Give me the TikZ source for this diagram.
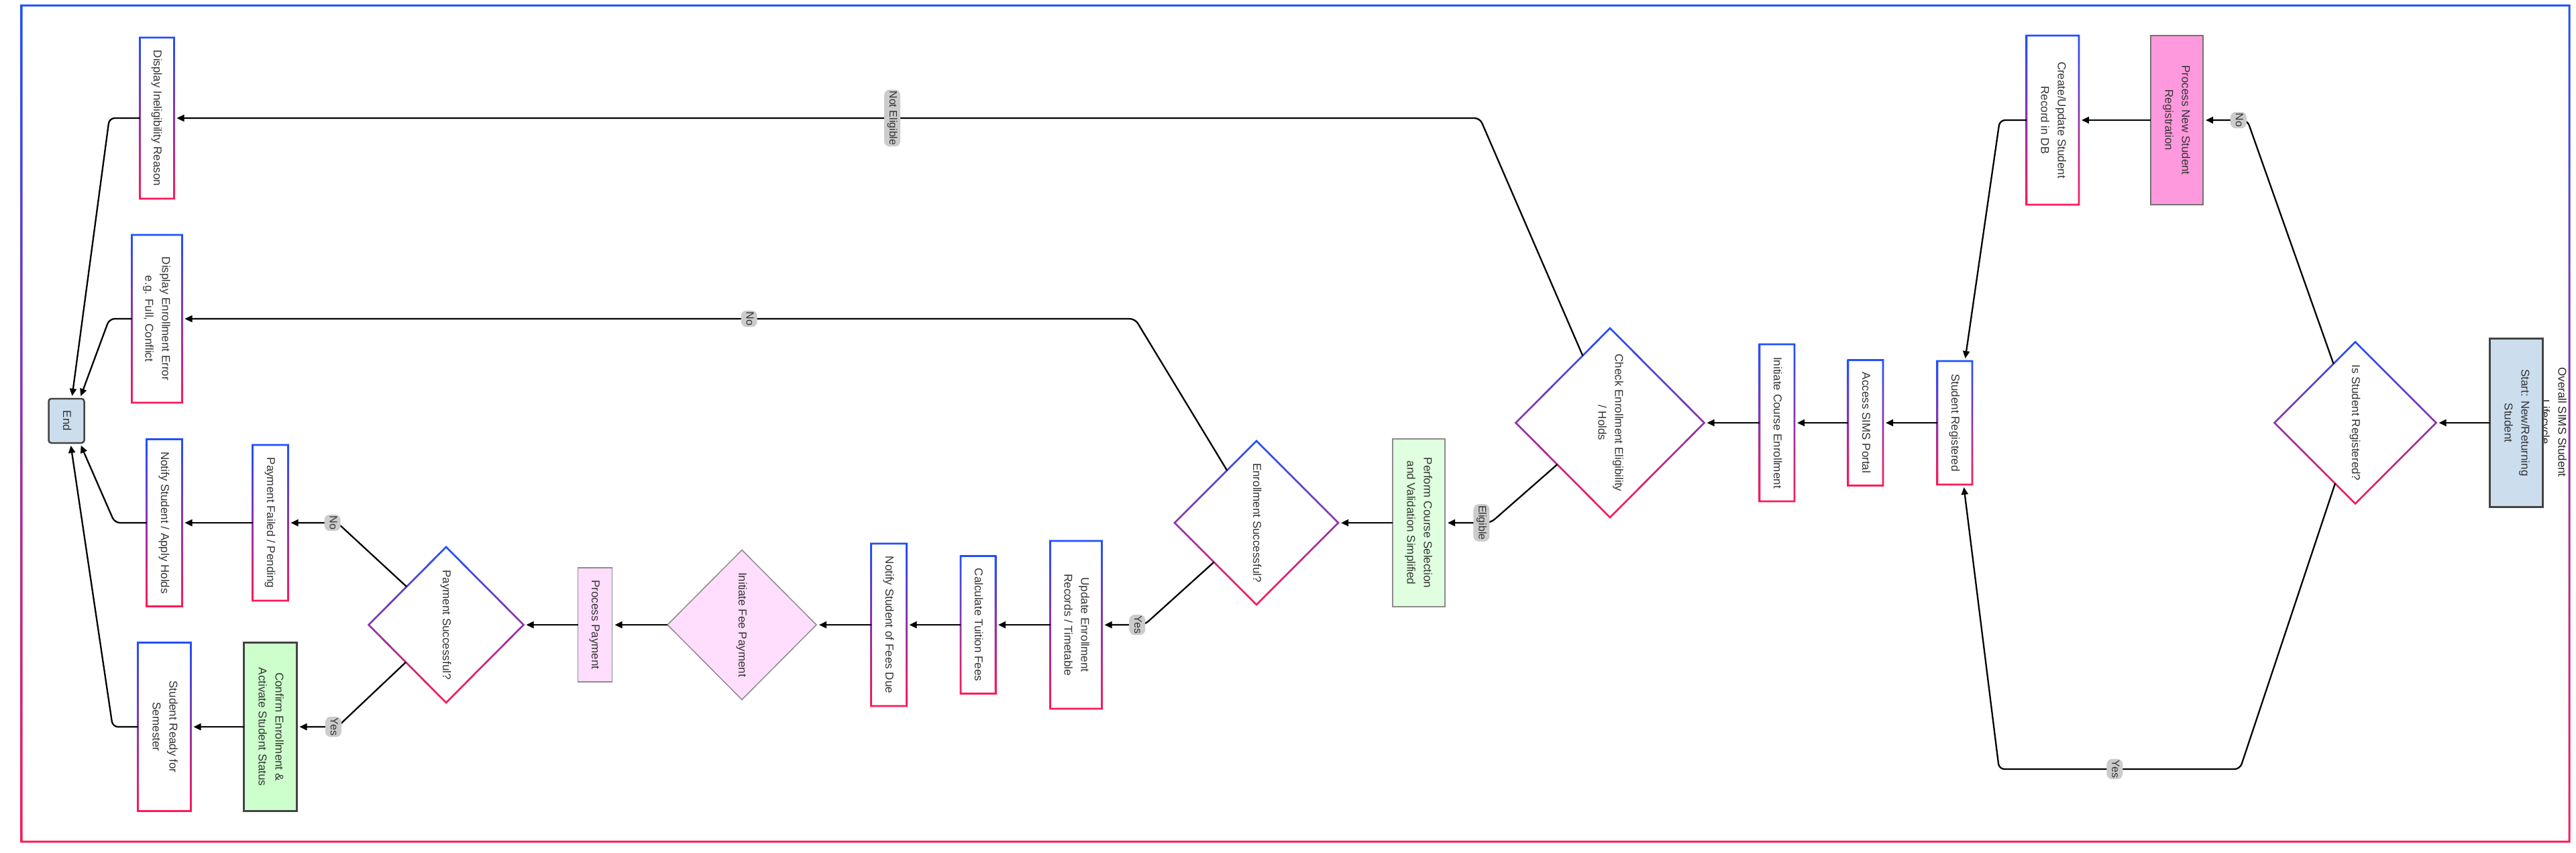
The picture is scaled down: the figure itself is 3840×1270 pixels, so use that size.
\documentclass[tikz,border=0pt]{standalone}
\usepackage{fontspec}
\setmainfont{Liberation Sans}
\usepackage{graphicx}
\usetikzlibrary{arrows.meta,shapes.geometric,calc}

\definecolor{gblue}{RGB}{30,80,255}
\definecolor{gred}{RGB}{255,25,85}
\definecolor{termfill}{RGB}{204,222,238}
\definecolor{termline}{RGB}{68,68,68}
\definecolor{regpink}{RGB}{255,153,221}
\definecolor{paypink}{RGB}{255,221,253}
\definecolor{okgreen}{RGB}{204,255,204}
\definecolor{selgreen}{RGB}{224,255,224}
\definecolor{labelgray}{RGB}{204,204,204}
\definecolor{txtgray}{RGB}{51,51,51}

\newcommand{\boxtxt}{\fontsize{17}{25}\selectfont}
\newcommand{\tagtxt}{\fontsize{16}{20}\selectfont}
\newcommand{\rottext}[1]{\rotatebox{-90}{\begin{tabular}{@{}c@{}}#1\end{tabular}}}
% gradient border round a box or a diamond
\newcommand{\gradrect}[1]{%
  \shade[gradring]
    ([shift={(-1.3pt,1.3pt)}]#1.north west) rectangle ([shift={(1.3pt,-1.3pt)}]#1.south east)
    ([shift={(1.3pt,-1.3pt)}]#1.north west) rectangle ([shift={(-1.3pt,1.3pt)}]#1.south east);}
\newcommand{\graddiam}[1]{%
  \shade[gradring]
    ([yshift=1.9pt]#1.north) -- ([xshift=1.9pt]#1.east) -- ([yshift=-1.9pt]#1.south) -- ([xshift=-1.9pt]#1.west) -- cycle
    ([yshift=-1.9pt]#1.north) -- ([xshift=-1.9pt]#1.east) -- ([yshift=1.9pt]#1.south) -- ([xshift=1.9pt]#1.west) -- cycle;}

\begin{document}
\begin{tikzpicture}[x=1pt,y=-1pt,>={Triangle[length=11pt,width=10pt]},
  procbox/.style={rectangle,fill=white,inner sep=0pt,outer sep=0pt,text=txtgray,font=\boxtxt},
  termbox/.style={procbox,fill=termfill,draw=termline,line width=2.5pt},
  decision/.style={diamond,fill=white,inner sep=0pt,outer sep=0pt,text=txtgray,font=\boxtxt},
  flow/.style={->,line width=2.3pt,rounded corners=8pt,shorten >=4pt},
  elabel/.style={fill=labelgray,text=txtgray,inner sep=2pt,font=\tagtxt},
  gradring/.style={top color=gblue,bottom color=gred,even odd rule}]
\useasboundingbox (0,0) rectangle (3840,1270);
\fill[white] (0,0) rectangle (3840,1270);

% The frame
\coordinate (fNW) at (32,8);
\coordinate (fSE) at (3830,1254);
\shade[gradring] ([shift={(-1.5pt,1.5pt)}]fNW) rectangle ([shift={(1.5pt,-1.5pt)}]fSE)
  ([shift={(1.5pt,-1.5pt)}]fNW) rectangle ([shift={(-1.5pt,1.5pt)}]fSE);
\node[font=\boxtxt,text=black!85,inner sep=0pt] (title) at (3806,629) {\rottext{Overall SIMS Student\\Lifecycle}};

% Registration
\node[termbox,minimum width=79,minimum height=251] (start) at (3751,630) {\rottext{Start: New/Returning\\Student}};
\node[decision,minimum width=241,minimum height=241] (isReg) at (3511,630) {\rottext{Is Student Registered?}};
\node[procbox,fill=regpink,draw=black!55,line width=2pt,minimum width=78,minimum height=252] (newReg) at (3245,179) {\rottext{Process New Student\\Registration}};
\node[procbox,minimum width=78,minimum height=252] (createRec) at (3060,179) {\rottext{Create/Update Student\\Record in DB}};
\node[procbox,minimum width=52,minimum height=184] (stuReg) at (2914,630) {\rottext{Student Registered}};
\node[procbox,minimum width=52,minimum height=187] (portal) at (2781,630) {\rottext{Access SIMS Portal}};
\node[procbox,minimum width=52,minimum height=234] (initEnr) at (2649,630) {\rottext{Initiate Course Enrollment}};

% Enrollment
\node[decision,minimum width=281,minimum height=282] (checkElig) at (2400,630) {\rottext{Check Enrollment Eligibility\\/ Holds}};
\node[procbox,fill=selgreen,draw=black!45,line width=2pt,minimum width=78,minimum height=250] (perform) at (2115,779) {\rottext{Perform Course Selection\\and Validation Simplified}};
\node[decision,minimum width=244,minimum height=244] (enrOK) at (1873,779) {\rottext{Enrollment Successful?}};
\node[procbox,minimum width=77,minimum height=250] (updEnr) at (1604,931) {\rottext{Update Enrollment\\Records / Timetable}};
\node[procbox,minimum width=52,minimum height=205] (calcFees) at (1458,931) {\rottext{Calculate Tuition Fees}};
\node[procbox,minimum width=53,minimum height=242] (notifyFees) at (1325,931) {\rottext{Notify Student of Fees Due}};

% Payment
\node[decision,fill=paypink,draw=black!45,line width=1.5pt,minimum width=222,minimum height=223] (initFee) at (1106,931) {\rottext{Initiate Fee Payment}};
\node[procbox,fill=paypink,draw=black!45,line width=1.5pt,minimum width=51,minimum height=170] (procPay) at (887,931) {\rottext{Process Payment}};
\node[decision,minimum width=231,minimum height=232] (payOK) at (665,931) {\rottext{Payment Successful?}};
\node[procbox,minimum width=53,minimum height=232] (payFail) at (403,779) {\rottext{Payment Failed / Pending}};
\node[procbox,minimum width=53,minimum height=249] (notifyHold) at (245,779) {\rottext{Notify Student / Apply Holds}};
\node[procbox,fill=okgreen,draw=termline,line width=2.5pt,minimum width=79,minimum height=251] (confirm) at (403,1083) {\rottext{Confirm Enrollment \&\\Activate Student Status}};
\node[procbox,minimum width=79,minimum height=251] (ready) at (245,1083) {\rottext{Student Ready for\\Semester}};

% Errors and end
\node[procbox,minimum width=51,minimum height=240] (dispInel) at (234,176) {\rottext{Display Ineligibility Reason}};
\node[procbox,minimum width=75,minimum height=250] (dispErr) at (234,475) {\rottext{Display Enrollment Error\\e.g. Full, Conflict}};
\node[termbox,rounded corners=4pt,minimum width=53,minimum height=66] (theEnd) at (99,627) {\rottext{End}};

% The gradient borders
\foreach \n in {createRec,stuReg,portal,initEnr,updEnr,calcFees,notifyFees,payFail,notifyHold,ready,dispInel,dispErr}
  {\gradrect{\n}}
\foreach \n in {isReg,checkElig,enrOK,payOK}
  {\graddiam{\n}}

% The bends
\coordinate (regNo) at (3350,179);
\coordinate (recDown) at (2981,179);
\coordinate (regYesA) at (3339,1146);
\coordinate (regYesB) at (2980,1146);
\coordinate (inelBend) at (2206,176);
\coordinate (eligBend) at (2222,779);
\coordinate (errBend) at (1692,475);
\coordinate (updBend) at (1706,931);
\coordinate (failBend) at (503,779);
\coordinate (okBend) at (503,1083);
\coordinate (endA) at (163,176);
\coordinate (endB) at (163,475);
\coordinate (endC) at (171,779);
\coordinate (endD) at (168,1083);

% Straight steps
\foreach \a/\b in {start/isReg,newReg/createRec,stuReg/portal,portal/initEnr,initEnr/checkElig,
  perform/enrOK,updEnr/calcFees,calcFees/notifyFees,notifyFees/initFee,initFee/procPay,
  procPay/payOK,payFail/notifyHold,confirm/ready}
  \draw[flow] (\a.west) -- (\b.east);

% Branches
\draw[flow] ($(isReg.north)!0.27!(isReg.west)$) -- (regNo) -- node[elabel,pos=0.2] {\rottext{No}} (newReg.east);
\draw[flow] (createRec.west) -- (recDown) -- ([xshift=15]stuReg.north);
\draw[flow] ($(isReg.south)!0.25!(isReg.west)$) -- (regYesA) -- node[elabel,pos=0.52] {\rottext{Yes}} (regYesB) -- ([xshift=13]stuReg.south);
\draw[flow] ($(checkElig.north)!0.29!(checkElig.west)$) -- (inelBend) -- node[elabel,pos=0.45] {\rottext{Not Eligible}} (dispInel.east);
\draw[flow] ($(checkElig.south)!0.56!(checkElig.west)$) -- (eligBend) -- node[elabel,pos=0.2] {\rottext{Eligible}} (perform.east);
\draw[flow] ($(enrOK.north)!0.36!(enrOK.west)$) -- (errBend) -- node[elabel,pos=0.405] {\rottext{No}} (dispErr.east);
\draw[flow] ($(enrOK.south)!0.52!(enrOK.west)$) -- (updBend) -- node[elabel,pos=0.17] {\rottext{Yes}} (updEnr.east);
\draw[flow] ($(payOK.north)!0.51!(payOK.west)$) -- (failBend) -- node[elabel,pos=0.1] {\rottext{No}} (payFail.east);
\draw[flow] ($(payOK.south)!0.52!(payOK.west)$) -- (okBend) -- node[elabel,pos=0.1] {\rottext{Yes}} (confirm.east);

% Into the end
\draw[flow] (dispInel.west) -- (endA) -- ([xshift=8]theEnd.north);
\draw[flow] (dispErr.west) -- (endB) -- ([xshift=20]theEnd.north);
\draw[flow] (notifyHold.west) -- (endC) -- ([xshift=20]theEnd.south);
\draw[flow] (ready.west) -- (endD) -- ([xshift=6]theEnd.south);
\end{tikzpicture}
\end{document}
